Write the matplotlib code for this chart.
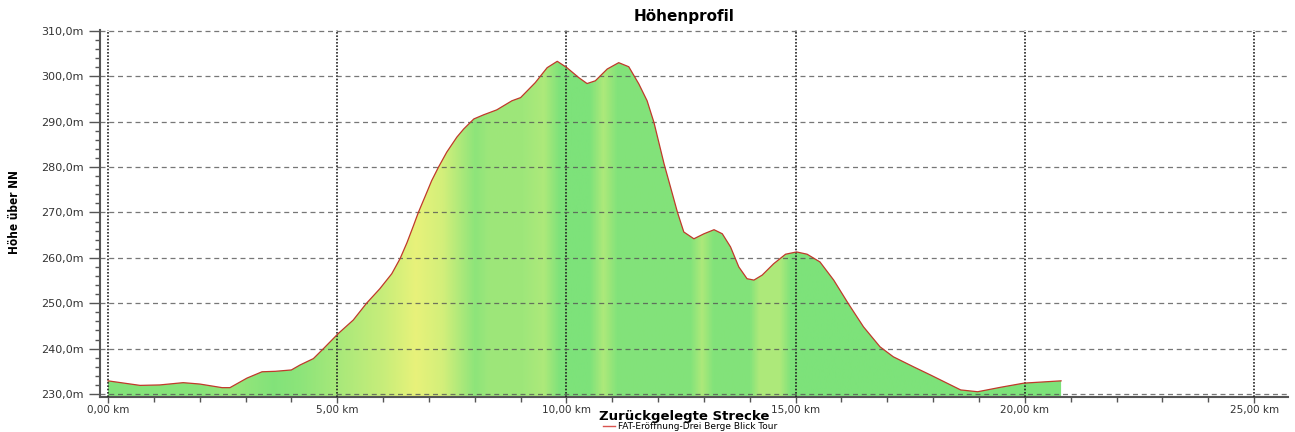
import numpy as np
import matplotlib
matplotlib.use('Agg')
import matplotlib.pyplot as plt
from matplotlib.ticker import MultipleLocator, FuncFormatter
from matplotlib.lines import Line2D

# profile: distance (km) and height (m)
dist_km = [0.0, 0.7, 1.13, 1.64, 2.0, 2.49, 2.66, 3.03, 3.36, 3.65, 4.0,
           4.19, 4.48, 4.70, 5.02, 5.35, 5.64, 5.93, 6.19, 6.37, 6.52, 6.66,
           6.77, 6.92, 7.06, 7.21, 7.39, 7.61, 7.76, 7.98, 8.19, 8.48, 8.81,
           9.0, 9.32, 9.58, 9.80, 10.01, 10.27, 10.45, 10.63, 10.89, 11.14,
           11.36, 11.58, 11.76, 11.91, 12.13, 12.27, 12.42, 12.56, 12.78,
           13.0, 13.22, 13.40, 13.58, 13.76, 13.94, 14.09, 14.27, 14.52,
           14.78, 15.02, 15.25, 15.53, 15.83, 16.15, 16.48, 16.84, 17.13,
           17.57, 17.94, 18.3, 18.6, 18.97, 19.48, 19.98, 20.79]
height_m = [232.9, 231.9, 232.0, 232.5, 232.2, 231.4, 231.4, 233.5, 234.9,
            235.0, 235.3, 236.4, 237.8, 240.0, 243.3, 246.3, 250.0, 253.2,
            256.5, 259.8, 263.3, 267.0, 270.0, 273.6, 277.0, 280.0, 283.3,
            286.6, 288.4, 290.6, 291.5, 292.6, 294.6, 295.3, 298.6, 301.9,
            303.3, 301.9, 299.7, 298.4, 299.0, 301.6, 303.0, 302.1, 298.3,
            294.6, 289.8, 280.7, 275.6, 270.1, 265.7, 264.2, 265.3, 266.2,
            265.3, 262.4, 258.0, 255.4, 255.1, 256.2, 258.7, 260.8, 261.3,
            260.8, 259.1, 255.1, 249.9, 244.8, 240.4, 238.2, 236.0, 234.2,
            232.4, 230.9, 230.5, 231.5, 232.4, 232.9]

# colour bands of the fill: position (km) and how yellow (0 green .. 1 yellow)
band_km = [0, 2.0, 2.7, 3.6, 4.2, 5.0, 6.0, 6.7, 7.3, 8.0, 8.3, 9.0, 9.5,
           9.85, 10.5, 10.8, 11.1, 12.7, 12.95, 13.2, 14.0, 14.2, 14.65,
           14.9, 20.8]
band_yellow = [0.05, 0.1, 0.25, 0.05, 0.15, 0.4, 0.7, 1.0, 0.8, 0.15, 0.3,
               0.3, 0.45, 0.0, 0.0, 0.45, 0.05, 0.05, 0.45, 0.05, 0.05, 0.45,
               0.45, 0.0, 0.0]

x_ticks = [0, 5, 10, 15, 20, 25]
y_ticks = [230, 240, 250, 260, 270, 280, 290, 300, 310]

fig = plt.figure(figsize=(12.95, 4.32), dpi=100)
ax = fig.add_axes([0.0772, 0.081, 0.9174, 0.8496])
ymin, ymax = 229.34, 310.2
ax.set_xlim(-0.175, 25.74)
ax.set_ylim(ymin, ymax)

# gradient fill clipped to the profile
green = np.array([125, 226, 122]) / 255.0
yellow = np.array([232, 242, 122]) / 255.0
xs = np.linspace(0, dist_km[-1], 600)
t = np.interp(xs, band_km, band_yellow)
cols = green[None, :] * (1 - t[:, None]) + yellow[None, :] * t[:, None]
img = ax.imshow(cols[None, :, :], extent=[0, dist_km[-1], ymin, ymax],
                aspect='auto', origin='lower', zorder=1)
poly = ax.fill_between(dist_km, height_m, ymin, color='none', lw=0)
img.set_clip_path(poly.get_paths()[0], ax.transData)
ax.plot(dist_km, height_m, color='#c0392b', lw=0.9, zorder=3)

# grid
ax.set_xticks(x_ticks)
ax.set_yticks(y_ticks)
ax.xaxis.set_minor_locator(MultipleLocator(1))
ax.yaxis.set_minor_locator(MultipleLocator(2))
ax.grid(axis='y', which='major', color='#555555', ls=(0, (4, 3)), lw=0.9,
        alpha=0.8, zorder=2)
ax.grid(axis='x', which='major', color='#222222', ls=(0, (1, 1)), lw=1.2,
        zorder=2)
ax.set_axisbelow(False)

ax.xaxis.set_major_formatter(FuncFormatter(lambda v, p: ('%.2f km' % v).replace('.', ',')))
ax.yaxis.set_major_formatter(FuncFormatter(lambda v, p: ('%.1fm' % v).replace('.', ',')))
ax.tick_params(axis='y', which='major', labelsize=8, labelcolor='#333333',
               length=8, width=1, color='#555555')
ax.tick_params(axis='x', which='major', labelsize=7.5, labelcolor='#333333',
               length=4, width=1, color='#555555', pad=1.5)
ax.tick_params(axis='both', which='minor', length=3.5, width=1, color='#555555')

for s in ['top', 'right']:
    ax.spines[s].set_visible(False)
for s in ['left', 'bottom']:
    ax.spines[s].set_color('#555555')
    ax.spines[s].set_linewidth(1.5)

fig.text(0.528, 0.962, 'Höhenprofil', ha='center', va='center',
         fontsize=11, fontweight='bold')
fig.text(0.528, 0.035, 'Zurückgelegte Strecke', ha='center', va='center',
         fontsize=9.5, fontweight='bold')
fig.text(0.011, 0.51, 'Höhe über NN', rotation=90, ha='center', va='center',
         fontsize=8.5, fontweight='bold', fontstretch='condensed')

handle = Line2D([], [], color='#d9534f', lw=1)
fig.legend([handle], ['FAT-Eröffnung-Drei Berge Blick Tour'], loc='center',
           bbox_to_anchor=(0.533, 0.012), frameon=False, fontsize=6.5,
           handlelength=1.3, handletextpad=0.4, borderpad=0)

fig.savefig('out.png', dpi=100)
